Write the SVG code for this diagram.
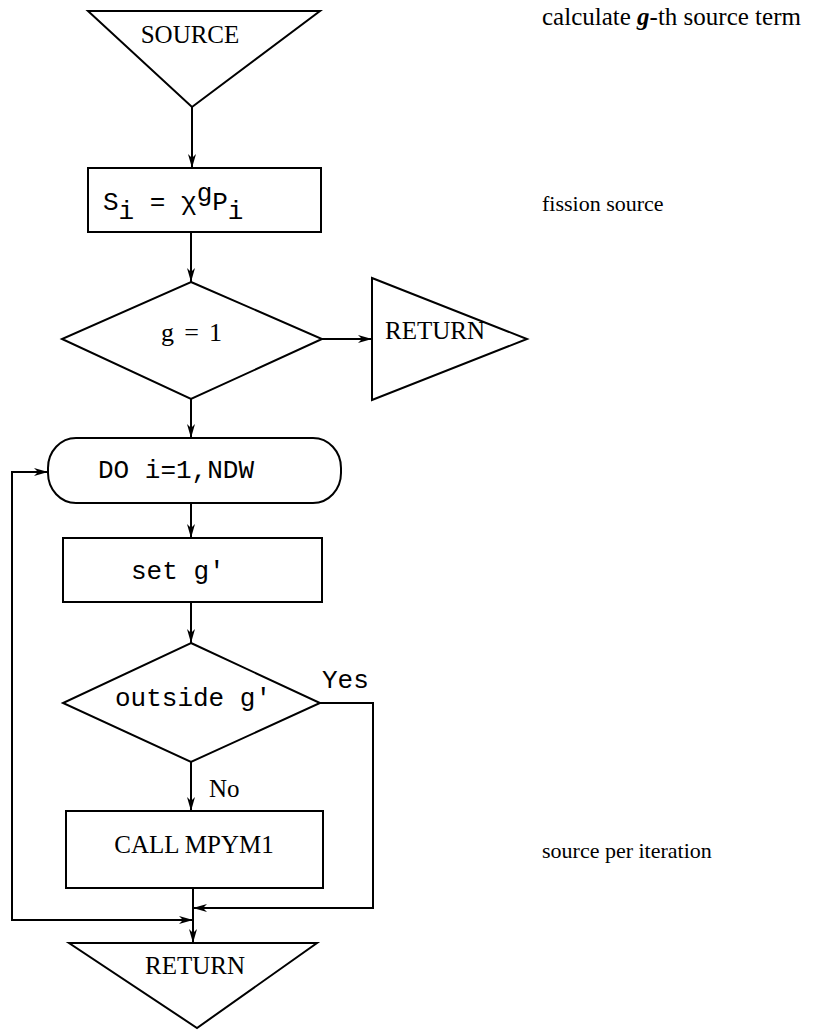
<svg xmlns="http://www.w3.org/2000/svg" width="817" height="1030" viewBox="0 0 817 1030">
  <style>
    .shape { fill: none; stroke: #000; stroke-width: 2; stroke-linejoin: miter; }
    .conn { fill: none; stroke: #000; stroke-width: 2; }
    .mono { font-family: "Liberation Mono", "Courier New", monospace; font-size: 26px; fill: #000; }
    .serif { font-family: "Liberation Serif", "Times New Roman", serif; font-size: 25px; fill: #000; }
    .note { font-family: "Liberation Serif", "Times New Roman", serif; font-size: 22px; fill: #000; }
    .note-lg { font-size: 25px; }
    .big { font-size: 26px; }
  </style>
  <defs>
    <marker id="arrow" markerUnits="userSpaceOnUse" markerWidth="16" markerHeight="10" refX="14" refY="5" orient="auto">
      <path d="M0,1 L14,5 L0,9 L4,5 Z" fill="#000"/>
    </marker>
  </defs>
  <rect width="817" height="1030" fill="#fff"/>

  <!-- entry: SOURCE -->
  <g id="source">
    <polygon class="shape" points="88,11 320,11 192,107"/>
    <text class="serif" x="190" y="43" text-anchor="middle">SOURCE</text>
  </g>

  <!-- fission source box -->
  <g id="fission">
    <rect class="shape" x="88" y="168" width="233" height="64"/>
    <text class="mono" x="103" y="210">S<tspan dy="9">i</tspan><tspan dy="-9"> = χ</tspan><tspan dy="-9">g</tspan><tspan dy="9">P</tspan><tspan dy="9">i</tspan></text>
  </g>

  <!-- test g = 1 -->
  <g id="test-g1">
    <polygon class="shape" points="191,282 322,339 191,399 62,339"/>
    <text class="serif big" x="161" y="341" textLength="61" lengthAdjust="spacing">g = 1</text>
  </g>

  <!-- early exit -->
  <g id="return-early">
    <polygon class="shape" points="372,278 527,339 372,400"/>
    <text class="serif" x="385" y="339">RETURN</text>
  </g>

  <!-- DO loop header -->
  <g id="do-loop">
    <rect class="shape" x="48" y="438" width="293" height="65" rx="28" ry="30"/>
    <text class="mono" x="98" y="478">DO i=1,NDW</text>
  </g>

  <!-- set g' -->
  <g id="set-gp">
    <rect class="shape" x="63" y="538" width="259" height="64"/>
    <text class="mono" x="131" y="579">set g'</text>
  </g>

  <!-- test outside g' -->
  <g id="test-outside">
    <polygon class="shape" points="191,643 320,703 191,762 63,703"/>
    <text class="mono" x="115" y="706">outside g'</text>
  </g>

  <!-- CALL MPYM1 -->
  <g id="call-mpym1">
    <rect class="shape" x="66" y="811" width="257" height="77"/>
    <text class="serif" x="194" y="853" text-anchor="middle">CALL MPYM1</text>
  </g>

  <!-- exit: RETURN -->
  <g id="return-end">
    <polygon class="shape" points="69,943 317,943 197,1028"/>
    <text class="serif" x="195" y="974" text-anchor="middle">RETURN</text>
  </g>

  <!-- side notes -->
  <g id="notes">
    <text class="note note-lg" x="542" y="25">calculate <tspan font-weight="bold" font-style="italic">g</tspan>-th source term</text>
    <text class="note" x="542" y="211">fission source</text>
    <text class="note" x="542" y="858">source per iteration</text>
  </g>

  <!-- connectors -->
  <g id="connectors">
    <path class="conn" d="M192,107 L192,168" marker-end="url(#arrow)"/>
    <path class="conn" d="M191,232 L191,282" marker-end="url(#arrow)"/>
    <path class="conn" d="M322,339 L372,339" marker-end="url(#arrow)"/>
    <path class="conn" d="M191,399 L191,438" marker-end="url(#arrow)"/>
    <path class="conn" d="M191,503 L191,538" marker-end="url(#arrow)"/>
    <path class="conn" d="M191,602 L191,643" marker-end="url(#arrow)"/>
    <path class="conn" d="M191,762 L191,811" marker-end="url(#arrow)"/>
    <path class="conn" d="M320,703 L373,703 L373,908 L193,908" marker-end="url(#arrow)"/>
    <path class="conn" d="M193,888 L193,943" marker-end="url(#arrow)"/>
    <path class="conn" d="M193,920 L12,920 L12,472 L48,472" marker-end="url(#arrow)"/>
    <path class="conn" d="M12,920 L193,920" marker-end="url(#arrow)"/>
    <text class="mono" x="322" y="688">Yes</text>
    <text class="serif" x="209" y="797">No</text>
  </g>
</svg>
